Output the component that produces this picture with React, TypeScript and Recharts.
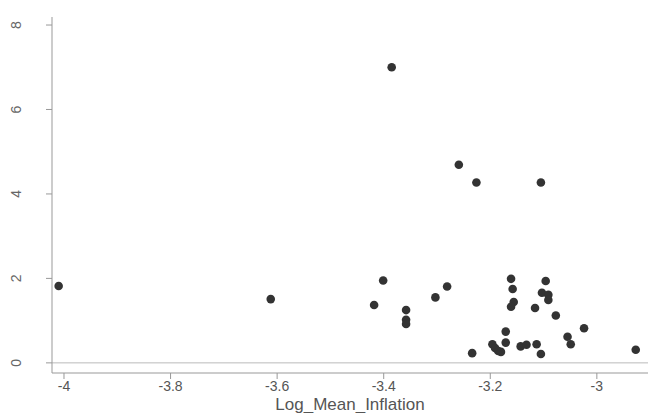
import React from 'react';
import { ScatterChart, Scatter, XAxis, YAxis, ReferenceLine } from 'recharts';

const inflation = [
  -4.01, -3.612, -3.385, -3.259, -3.226, -3.105,
  -3.401, -3.418, -3.358, -3.358, -3.358, -3.303, -3.281,
  -3.234, -3.196, -3.191, -3.185, -3.18, -3.171, -3.171,
  -3.161, -3.158, -3.156, -3.161, -3.143, -3.132, -3.113, -3.105,
  -3.116, -3.096, -3.103, -3.091, -3.091, -3.077, -3.055, -3.049,
  -3.024, -2.927,
];
const outcome = [
  1.82, 1.51, 7.0, 4.69, 4.27, 4.27,
  1.95, 1.37, 1.25, 1.02, 0.92, 1.55, 1.81,
  0.23, 0.44, 0.35, 0.28, 0.26, 0.74, 0.48,
  1.99, 1.75, 1.44, 1.33, 0.39, 0.43, 0.44, 0.21,
  1.3, 1.94, 1.66, 1.61, 1.49, 1.12, 0.62, 0.44,
  0.82, 0.31,
];
const xTicks = [-4, -3.8, -3.6, -3.4, -3.2, -3];
const yTicks = [0, 2, 4, 6, 8];

const points = inflation.map((x, i) => ({ x, y: outcome[i] }));

const YTick = ({ y, payload }: any) => (
  <text
    x={16}
    y={y}
    transform={`rotate(-90, 16, ${y})`}
    textAnchor="middle"
    dominantBaseline="central"
    fill="#666"
    fontSize={14}
  >
    {payload.value}
  </text>
);

const XTick = ({ x, y, payload }: any) => (
  <text x={x} y={y + 10} textAnchor="middle" fill="#555" fontSize={14}>
    {String(payload.value)}
  </text>
);

const XLabel = ({ viewBox }: any) => (
  <text x={viewBox.x + viewBox.width / 2} y={410} textAnchor="middle" fill="#555" fontSize={17}>
    Log_Mean_Inflation
  </text>
);

const Dot = ({ cx, cy }: any) => <circle cx={cx} cy={cy} r={4.3} fill="#333" />;

export default function App() {
  return (
    <div style={{ position: 'absolute', left: 0, top: 0, background: '#fff', fontFamily: 'Liberation Sans, Arial, sans-serif' }}>
      <ScatterChart width={648} height={413} margin={{ top: 17, right: 0, bottom: 0, left: 0 }}>
        <XAxis
          type="number"
          dataKey="x"
          domain={[-4.0225, -2.904]}
          ticks={xTicks}
          allowDataOverflow
          stroke="#999"
          tickSize={6}
          tick={<XTick />}
          height={40}
          label={<XLabel />}
        />
        <YAxis
          type="number"
          dataKey="y"
          domain={[-0.24, 8.19]}
          ticks={yTicks}
          allowDataOverflow
          width={52}
          stroke="#999"
          tickSize={6}
          tick={<YTick />}
        />
        <ReferenceLine y={0} stroke="#bbb" />
        <Scatter data={points} shape={<Dot />} isAnimationActive={false} />
      </ScatterChart>
    </div>
  );
}
